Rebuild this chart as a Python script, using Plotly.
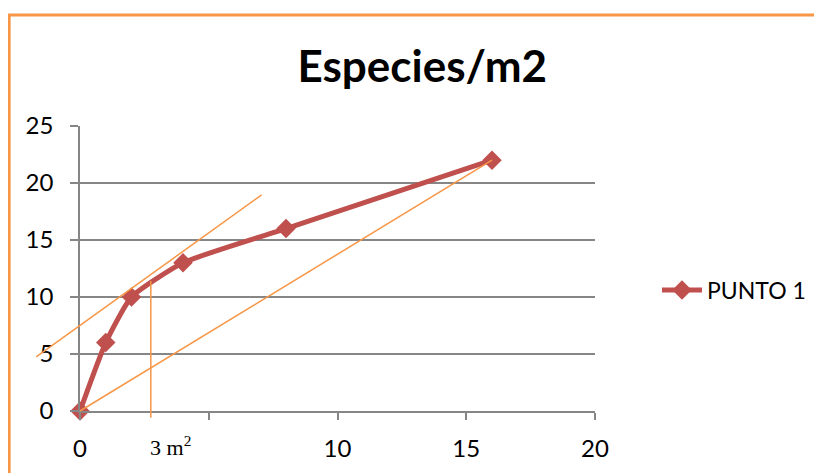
import plotly.graph_objects as go

# Data
area = [0, 1, 2, 4, 8, 16]
species = [0, 6, 10, 13, 16, 22]
series_name = "PUNTO 1"
title_text = "Especies/m2"

x_tickvals = [0, 5, 10, 15, 20]
x_ticktext = ["0", "", "10", "15", "20"]
y_tickvals = [0, 5, 10, 15, 20, 25]

# Guide lines drawn by hand on the original (data coordinates)
tangent_x = [-1.7, 7.05]
tangent_y = [4.75, 18.95]
diag_x = [0, 16]
diag_y = [0, 22]
vert_x = [2.75, 2.75]
vert_y = [-0.6, 11.4]
mark_label = "3 m<sup>2</sup>"

X_RANGE = [0, 20]
Y_RANGE = [0, 25]

# page has an 8px body margin, so figure is 814x465
OFF = 8
W, H = 814, 465
ML, MT = 80 - OFF, 126 - OFF
MR = W - (596 - OFF)
MB = H - (411 - OFF)
PW, PH = W - ML - MR, H - MT - MB

RED = "#C0504D"
ORANGE = "#F79646"
GRID = "#868686"
FONT = "Lato"


def px(x):
    return (x - X_RANGE[0]) / (X_RANGE[1] - X_RANGE[0])


def py(y):
    return (y - Y_RANGE[0]) / (Y_RANGE[1] - Y_RANGE[0])


def page_x(p):
    return (p - OFF - ML) / PW


def page_y(p):
    return (H - MB - (p - OFF)) / PH


fig = go.Figure()
fig.add_trace(go.Scatter(
    x=area, y=species, mode="lines+markers", name=series_name,
    line=dict(color=RED, width=5, shape="spline", smoothing=0.5),
    marker=dict(symbol="diamond", size=15, color=RED),
    cliponaxis=False,
))

shapes = []
for xs, ys in [(tangent_x, tangent_y), (diag_x, diag_y), (vert_x, vert_y)]:
    shapes.append(dict(type="line", xref="paper", yref="paper",
                       x0=px(xs[0]), y0=py(ys[0]), x1=px(xs[1]), y1=py(ys[1]),
                       line=dict(color=ORANGE, width=1.5), layer="above"))
# orange frame around chart area
shapes.append(dict(type="rect", xref="paper", yref="paper",
                   x0=page_x(9.0), x1=page_x(840),
                   y0=page_y(500), y1=page_y(15),
                   line=dict(color=ORANGE, width=3), layer="below"))

fig.update_layout(
    width=W, height=H,
    margin=dict(l=ML, r=MR, t=MT, b=MB),
    paper_bgcolor="white", plot_bgcolor="white",
    title=dict(text="<b>" + title_text + "</b>", x=page_x(423), xref="paper",
               xanchor="center", y=1 - (67 - OFF) / H, yanchor="middle",
               font=dict(family=FONT, size=44, color="black")),
    showlegend=True,
    legend=dict(x=page_x(657), y=page_y(290),
                xanchor="left", yanchor="middle",
                font=dict(family=FONT, size=23, color="black"),
                bgcolor="rgba(0,0,0,0)", itemwidth=40),
    shapes=shapes,
    annotations=[dict(text=mark_label, x=vert_x[0], y=0, xref="x", yref="y",
                      xanchor="left", yanchor="top", yshift=-19, xshift=-3,
                      showarrow=False,
                      font=dict(family="Liberation Serif", size=22, color="black"))],
)
fig.update_xaxes(range=X_RANGE, tickvals=x_tickvals, ticktext=x_ticktext,
                 showgrid=False, zeroline=False, showline=True, linecolor=GRID,
                 linewidth=1.5, ticks="outside", ticklen=7, tickcolor=GRID,
                 tickwidth=1.5, ticklabelstandoff=8,
                 tickfont=dict(family=FONT, size=24, color="black"))
fig.update_yaxes(range=Y_RANGE, tickvals=y_tickvals,
                 showgrid=True, gridcolor=GRID, gridwidth=1.5, zeroline=False,
                 showline=True, linecolor=GRID, linewidth=1.5, ticks="outside",
                 ticklen=8, tickcolor=GRID, tickwidth=1.5, ticklabelstandoff=12,
                 tickfont=dict(family=FONT, size=24, color="black"))

fig.write_html("out.html")
